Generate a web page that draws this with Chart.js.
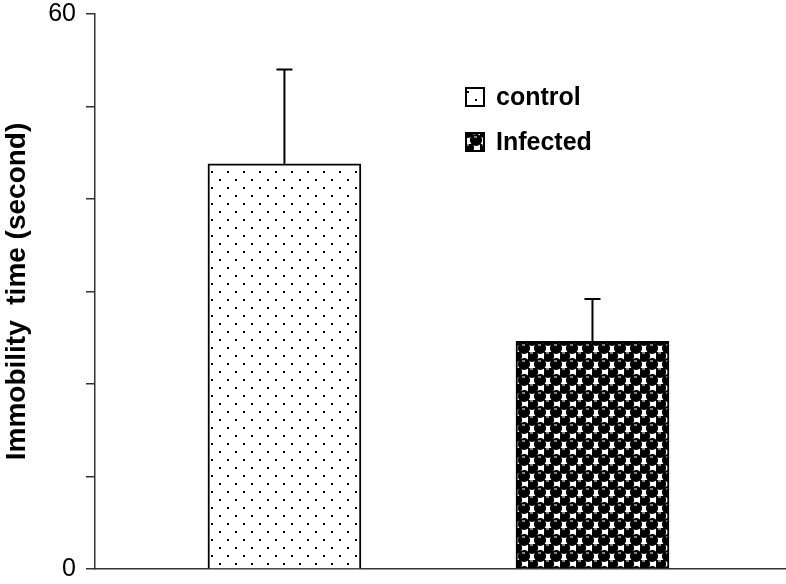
<!DOCTYPE html>
<html>
<head>
<meta charset="utf-8">
<script src="https://cdn.jsdelivr.net/npm/chart.js@4.4.1/dist/chart.umd.min.js"></script>
<style>
    html, body { margin: 0; padding: 0; background: #fff; }
    canvas { display: block; }
</style>
</head>
<body>
<canvas id="chartImmobility" width="786" height="584"></canvas>
<script>
// Datos del gráfico
const categories = ['control', 'Infected'];
const means = [43.8, 24.6];
const errors = [10.2, 4.6];
const labeledTicks = [0, 60];

(function() {
    'use strict';

    // Patrón de puntos (control)
    function dotPattern() {
        const c = document.createElement('canvas');
        c.width = 16; c.height = 16;
        const g = c.getContext('2d');
        g.fillStyle = '#fff';
        g.fillRect(0, 0, 16, 16);
        g.fillStyle = '#000';
        g.fillRect(3, 11, 2, 2);
        g.fillRect(11, 3, 2, 2);
        return g.createPattern(c, 'repeat');
    }

    // Patrón de círculos en damero (infectado)
    function checkerPattern() {
        const c = document.createElement('canvas');
        c.width = 16; c.height = 16;
        const g = c.getContext('2d');
        g.fillStyle = '#fff';
        g.fillRect(0, 0, 16, 16);
        g.fillStyle = '#000';
        const centers = [[4, 4], [12, 12], [-4, 12], [20, 12], [12, -4], [12, 20], [20, 20], [-4, -4], [20, -4], [-4, 20]];
        centers.forEach(([cx, cy]) => {
            g.beginPath();
            g.arc(cx, cy, 6.1, 0, Math.PI * 2);
            g.fill();
        });
        g.strokeStyle = '#fff';
        g.lineWidth = 1;
        [[4, 4], [12, 12]].forEach(([cx, cy]) => {
            g.beginPath();
            g.moveTo(cx - 2, cy - 3);
            g.lineTo(cx + 1, cy - 3);
            g.stroke();
        });
        return g.createPattern(c, 'repeat');
    }

    const patterns = [dotPattern(), checkerPattern()];

    const errorBars = {
        id: 'errorBars',
        afterDatasetsDraw(chart) {
            const ctx = chart.ctx;
            const y = chart.scales.y;
            const meta = chart.getDatasetMeta(0);
            ctx.save();
            ctx.strokeStyle = '#000';
            ctx.lineWidth = 2;
            meta.data.forEach((bar, i) => {
                const top = y.getPixelForValue(means[i] + errors[i]);
                ctx.beginPath();
                ctx.moveTo(bar.x, bar.y);
                ctx.lineTo(bar.x, top);
                ctx.moveTo(bar.x - 8, top);
                ctx.lineTo(bar.x + 8, top);
                ctx.stroke();
            });
            ctx.restore();
        }
    };

    const innerLegend = {
        id: 'innerLegend',
        afterDraw(chart) {
            const ctx = chart.ctx;
            const x0 = 466, y0 = 88, gap = 45, box = 18;
            ctx.save();
            ctx.font = 'bold 25px "Liberation Sans", Arial, sans-serif';
            ctx.textBaseline = 'middle';
            categories.forEach((name, i) => {
                const yy = y0 + i * gap;
                ctx.fillStyle = patterns[i];
                ctx.fillRect(x0, yy, box, box);
                ctx.strokeStyle = '#000';
                ctx.lineWidth = 2;
                ctx.strokeRect(x0, yy, box, box);
                ctx.fillStyle = '#000';
                ctx.fillText(name, x0 + 30, yy + box / 2 + 1);
            });
            ctx.restore();
        }
    };

    new Chart(document.getElementById('chartImmobility').getContext('2d'), {
        type: 'bar',
        data: {
            datasets: [{
                label: 'Immobility',
                data: means.map((v, i) => ({ x: i + 1, y: v })),
                backgroundColor: patterns,
                borderColor: '#000',
                borderWidth: 2,
                borderSkipped: 'bottom',
                barThickness: 153
            }]
        },
        options: {
            responsive: false,
            animation: false,
            devicePixelRatio: 1,
            layout: { padding: { top: 0, right: 1, bottom: 15, left: 0 } },
            plugins: {
                legend: { display: false },
                tooltip: { enabled: false }
            },
            scales: {
                x: {
                    type: 'linear',
                    offset: false,
                    min: 0.385,
                    max: 2.625,
                    grid: { display: false },
                    ticks: { display: false },
                    border: { display: true, color: '#333', width: 1.5 },
                    afterFit: (s) => { s.height = 0; s.paddingLeft = 0; s.paddingRight = 0; }
                },
                y: {
                    min: 0,
                    max: 60,
                    ticks: {
                        stepSize: 10,
                        padding: 10,
                        color: '#000',
                        font: { size: 25, family: '"Liberation Sans", Arial, sans-serif' },
                        callback: (v) => labeledTicks.includes(v) ? String(v) : ''
                    },
                    grid: { drawOnChartArea: false, drawTicks: true, tickLength: 9, color: '#333', lineWidth: 1.5 },
                    border: { display: true, color: '#333', width: 1.5 },
                    title: {
                        display: true,
                        text: 'Immobility  time (second)',
                        color: '#000',
                        padding: { top: 0, bottom: 0 },
                        font: { size: 28, weight: 'bold', family: '"Liberation Sans", Arial, sans-serif' }
                    },
                    afterFit: (s) => { s.width = 95; s.paddingTop = 14; s.paddingBottom = 0; }
                }
            }
        },
        plugins: [errorBars, innerLegend]
    });
})();
</script>
</body>
</html>
